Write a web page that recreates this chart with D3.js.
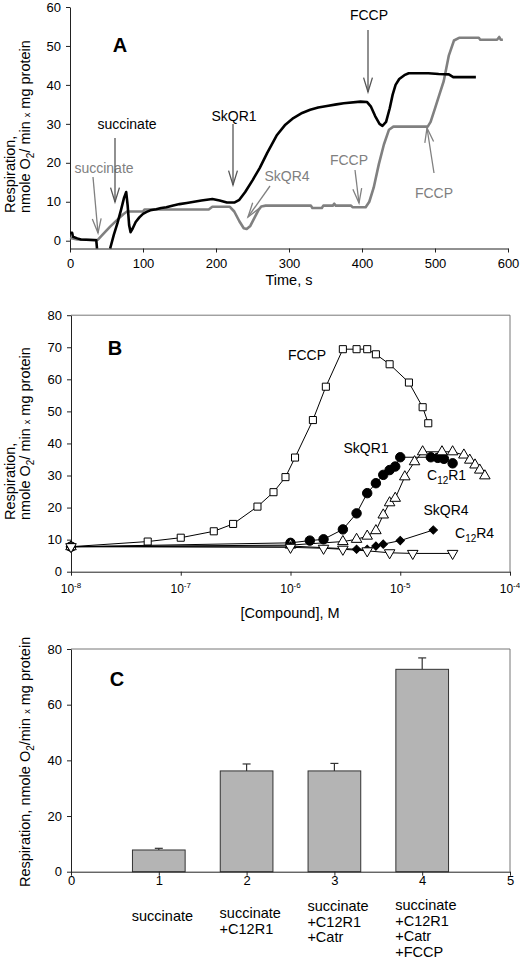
<!DOCTYPE html>
<html><head><meta charset="utf-8">
<script src="https://cdn.jsdelivr.net/npm/d3@7"></script>
<style>body{margin:0;background:#fff} text{font-family:Arial,"Liberation Sans",sans-serif}</style>
</head><body><svg id="c" width="520" height="958"></svg>
<script>
// ---------- Panel A data ----------
const aTicksX = [0,100,200,300,400,500,600];
const aTicksY = [0,10,20,30,40,50,60];
const blackTime = [0,3,4,10,15,36,37,46,55,60,65,70,74,77,79,81,83,86,90,95,100,105,110,118,125,132,140,150,160,170,180,195,205,215,225,232,240,250,260,270,283,295,306,318,329,340,352,365,375,398,407,412,418,424,428,433,438,442,446,451,458,464,491,505,519,525,533,556];
const blackResp = [2.0,2.0,1.0,0.6,0.3,0.1,-2,null,-2,1.5,4.5,8,11,12.5,9,4,2.2,3.2,4.8,6,6.9,7.4,7.8,8.1,8.4,8.6,9,9.4,9.7,10,10.3,10.7,10.3,9.8,9.8,10.5,12.5,15.5,18.7,22.5,27,29.8,31.5,32.8,33.6,34.2,34.6,35,35.3,35.7,35.6,34.5,32,30,29.5,30.5,34,37.5,40,41.5,42.5,43,43,42.8,42.7,42,42,42];
const grayTime = [0,5,10,38,45,55,65,73,78,100,102,150,190,195,219,225,232,238,242,247,253,258,262,268,330,332,345,347,360,362,364,385,387,405,410,416,423,430,437,443,490,494,500,506,512,519,526,533,560,562,585,588,590,593];
const grayResp = [0.7,0.5,0.3,0.2,1.6,3.6,5.4,6.8,7.5,7.5,8.0,8.0,8.0,8.7,8.7,7.5,5,3.2,3.0,3.8,6,7.8,8.8,9.0,9.0,8.4,8.4,9.0,9.0,9.5,9.0,9.0,8.6,8.6,10,13.6,19.6,24.7,28.5,29.3,29.3,30.5,34,37.5,41,47.6,51.4,52.1,52.1,51.6,51.6,52.3,51.6,51.6];

// ---------- Panel B data ----------
const bTicksX = [1e-8,1e-7,1e-6,1e-5,1e-4];
const bTicksY = [0,10,20,30,40,50,60,70,80];
const fccpConc = [1e-8,5e-8,1e-7,2e-7,3e-7,5e-7,7e-7,9e-7,1.1e-6,1.6e-6,2.1e-6,3e-6,4e-6,5e-6,6e-6,8e-6,1.2e-5,1.6e-5,1.8e-5];
const fccpResp = [7.8,9.4,10.6,12.6,14.9,20.3,24.8,29.5,35.6,47.3,57.7,69.4,69.4,69.4,67.8,64.7,59,51.3,46.3];
const skqr1Conc = [1e-8,1e-6,1.5e-6,2e-6,3e-6,4e-6,5e-6,6e-6,7e-6,8e-6,9e-6,1e-5,1.9e-5,2.2e-5,2.5e-5,3e-5];
const skqr1Resp = [7.8,9.0,9.7,10.1,13.2,18.2,24.5,27.6,30.2,31.7,32.8,35.7,35.7,35.5,35.2,33.8];
const c12r1Conc = [1e-8,1e-6,3e-6,4e-6,5e-6,6e-6,7e-6,8e-6,9e-6,1.1e-5,1.35e-5,1.6e-5,2.4e-5,3e-5,3.8e-5,4.3e-5,4.8e-5,5.3e-5,5.9e-5];
const c12r1Resp = [7.8,8.3,9.4,10.1,11.1,12.8,17.7,21.5,22.9,29.6,34.3,37.4,37.4,37.4,36.4,34.8,33.3,31.7,29.9];
const c12r4Conc = [1e-8,1e-6,4e-6,5e-6,6e-6,7e-6,1e-5,2e-5];
const c12r4Resp = [7.8,8.0,7.0,7.0,8.0,8.6,9.7,13.0];
const skqr4Conc = [1e-8,1e-6,2e-6,3e-6,5e-6,8e-6,1.3e-5,3e-5];
const skqr4Resp = [7.8,7.6,7.3,7.0,6.5,5.9,5.7,5.7];

// ---------- Panel C data ----------
const cTicksX = [0,1,2,3,4,5];
const cTicksY = [0,20,40,60,80];
const barX = [1,2,3,4];
const barLabels = [["succinate"],["succinate","+C12R1"],["succinate","+C12R1","+Catr"],["succinate","+C12R1","+Catr","+FCCP"]];
const barValues = [7.8,36.2,36.2,72.7];
const barErrors = [0.6,2.5,2.7,4.1];

const svg = d3.select("#c");
const GRAY = "#808080";

function styleAxis(g, fs){
  g.selectAll("path.domain").attr("stroke","#222");
  g.selectAll(".tick line").attr("stroke","#222");
  g.selectAll(".tick text").attr("font-size",fs).attr("fill","#000").attr("font-family","Arial, 'Liberation Sans', sans-serif");
}
function yTitle2(x1, x2, yStart){
  svg.append("text").attr("transform",`translate(${x1},${yStart}) rotate(-90)`).attr("font-size",14.5).text("Respiration,");
  const t = svg.append("text").attr("transform",`translate(${x2},${yStart}) rotate(-90)`).attr("font-size",14.5);
  t.append("tspan").text("nmole O");
  t.append("tspan").attr("font-size",10).attr("dy",4).text("2");
  t.append("tspan").attr("dy",-4).text("/ min ");
  t.append("tspan").attr("font-size",9).text("x");
  t.append("tspan").text(" mg protein");
}
function arrow(x1,y1,x2,y2,color){
  const g = svg.append("g").attr("stroke",color).attr("stroke-width",1.3).attr("fill","none");
  g.append("line").attr("x1",x1).attr("y1",y1).attr("x2",x2).attr("y2",y2);
  const ang = Math.atan2(y1-y2, x1-x2), L = 15, w = 0.3;
  g.append("polyline").attr("points",[
    [x2+L*Math.cos(ang+w), y2+L*Math.sin(ang+w)],[x2,y2],[x2+L*Math.cos(ang-w), y2+L*Math.sin(ang-w)]
  ].map(p=>p.join(",")).join(" "));
}

// ================= PANEL A =================
const ax = d3.scaleLinear().domain([0,600]).range([70,508]);
const ay = d3.scaleLinear().domain([-2,60]).range([248.5,7]);
const gAy = svg.append("g").attr("transform","translate(70,0)")
  .call(d3.axisLeft(ay).tickValues(aTicksY).tickSize(4).tickSizeOuter(0).tickPadding(5));
styleAxis(gAy,13);
const gAx = svg.append("g").attr("transform",`translate(0,${ay(-2)})`)
  .call(d3.axisBottom(ax).tickValues(aTicksX).tickSize(4).tickSizeOuter(0).tickPadding(6.5));
styleAxis(gAx,13);
svg.append("text").attr("x",289).attr("y",285).attr("text-anchor","middle").attr("font-size",14.5).text("Time, s");
yTitle2(15,30,213);

const lineA = d3.line().defined(d=>d[1]!==null).x(d=>ax(d[0])).y(d=>ay(d[1]));
svg.append("path").datum(d3.zip(grayTime,grayResp)).attr("d",lineA)
  .attr("fill","none").attr("stroke",GRAY).attr("stroke-width",2.6).attr("stroke-linejoin","round");
svg.append("path").datum(d3.zip(blackTime,blackResp)).attr("d",lineA)
  .attr("fill","none").attr("stroke","#000").attr("stroke-width",2.6).attr("stroke-linejoin","round");

svg.append("text").attr("x",120).attr("y",52).attr("text-anchor","middle").attr("font-size",20).attr("font-weight","bold").text("A");
const annA = [
  {t:"succinate",x:127,y:129,c:"#000"},
  {t:"succinate",x:104,y:173,c:GRAY},
  {t:"SkQR1",x:234,y:121,c:"#000"},
  {t:"SkQR4",x:287,y:181,c:GRAY},
  {t:"FCCP",x:349,y:165,c:GRAY},
  {t:"FCCP",x:369,y:20,c:"#000"},
  {t:"FCCP",x:434,y:198,c:GRAY}
];
annA.forEach(a=>svg.append("text").attr("x",a.x).attr("y",a.y).attr("text-anchor","middle").attr("font-size",14).attr("fill",a.c).text(a.t));
arrow(115,138,115,202,"#555");
arrow(93,177,98,233,GRAY);
arrow(233,124,233,185,"#555");
arrow(270,186,248,217,GRAY);
arrow(355,170,359,203,GRAY);
arrow(368,30,368,92,"#555");
arrow(434,173,427,128,GRAY);

// ================= PANEL B =================
const bx = d3.scaleLog().domain([1e-8,1e-4]).range([71,510]);
const by = d3.scaleLinear().domain([0,80]).range([571.7,315.2]);
svg.append("line").attr("x1",71).attr("x2",510).attr("y1",315.2).attr("y2",315.2).attr("stroke","#777");
svg.append("line").attr("x1",510).attr("x2",510).attr("y1",315.2).attr("y2",571.7).attr("stroke","#777");
const gBy = svg.append("g").attr("transform","translate(71,0)")
  .call(d3.axisLeft(by).tickValues(bTicksY).tickSize(4).tickSizeOuter(0).tickPadding(5));
styleAxis(gBy,13);
const gBx = svg.append("g").attr("transform",`translate(0,${by(0)})`)
  .call(d3.axisBottom(bx).tickValues(bTicksX).tickSize(4).tickSizeOuter(0).tickFormat(()=>""));
styleAxis(gBx,13);
bTicksX.forEach(v=>{
  const t = svg.append("text").attr("x",bx(v)).attr("y",593).attr("text-anchor","middle").attr("font-size",12);
  t.append("tspan").text("10");
  t.append("tspan").attr("dy",-5).attr("font-size",8).text(String(Math.round(Math.log10(v))));
});
svg.append("text").attr("x",290).attr("y",618).attr("text-anchor","middle").attr("font-size",14.5).text("[Compound], M");
yTitle2(15,30,520);
svg.append("text").attr("x",115).attr("y",355).attr("text-anchor","middle").attr("font-size",20).attr("font-weight","bold").text("B");

const lineB = d3.line().x(d=>bx(d[0])).y(d=>by(d[1]));
function series(conc, resp, symType, size, fill, rot){
  const data = d3.zip(conc,resp);
  svg.append("path").datum(data).attr("d",lineB).attr("fill","none").attr("stroke","#000").attr("stroke-width",1);
  svg.append("g").selectAll("path").data(data).join("path")
    .attr("transform",d=>`translate(${bx(d[0])},${by(d[1])}) rotate(${rot})`)
    .attr("d",d3.symbol().type(symType).size(size))
    .attr("fill",fill).attr("stroke","#000").attr("stroke-width",1);
}
series(fccpConc,fccpResp,d3.symbolSquare,50,"#fff",0);
series(skqr1Conc,skqr1Resp,d3.symbolCircle,70,"#000",0);
series(c12r1Conc,c12r1Resp,d3.symbolTriangle,48,"#fff",0);
series(c12r4Conc,c12r4Resp,d3.symbolSquare,34,"#000",45);
series(skqr4Conc,skqr4Resp,d3.symbolTriangle,48,"#fff",180);

svg.append("text").attr("x",307).attr("y",360).attr("text-anchor","middle").attr("font-size",14).text("FCCP");
svg.append("text").attr("x",366).attr("y",453).attr("text-anchor","middle").attr("font-size",14).text("SkQR1");
svg.append("text").attr("x",446).attr("y",515).attr("text-anchor","middle").attr("font-size",14).text("SkQR4");
function cLabel(x,y,suffix){
  const t = svg.append("text").attr("x",x).attr("y",y).attr("font-size",14);
  t.append("tspan").text("C");
  t.append("tspan").attr("dy",4).attr("font-size",10).text("12");
  t.append("tspan").attr("dy",-4).text(suffix);
}
cLabel(427,480,"R1");
cLabel(455,538,"R4");

// ================= PANEL C =================
const cx = d3.scaleLinear().domain([0,5]).range([71,510]);
const cy = d3.scaleLinear().domain([0,80]).range([871.7,649]);
svg.append("line").attr("x1",71).attr("x2",510).attr("y1",649).attr("y2",649).attr("stroke","#777");
svg.append("line").attr("x1",510).attr("x2",510).attr("y1",649).attr("y2",871.7).attr("stroke","#777");
const bw = cx(0.6)-cx(0);
svg.append("g").selectAll("rect").data(d3.zip(barX,barValues)).join("rect")
  .attr("x",d=>cx(d[0])-bw/2).attr("y",d=>cy(d[1])).attr("width",bw).attr("height",d=>cy(0)-cy(d[1]))
  .attr("fill","#b4b4b4").attr("stroke","#333").attr("stroke-width",1);
svg.append("g").selectAll("g").data(d3.zip(barX,barValues,barErrors)).join("g").each(function(d){
  const g = d3.select(this).attr("stroke","#333").attr("stroke-width",1.2);
  g.append("line").attr("x1",cx(d[0])).attr("x2",cx(d[0])).attr("y1",cy(d[1])).attr("y2",cy(d[1]+d[2]));
  g.append("line").attr("x1",cx(d[0])-4).attr("x2",cx(d[0])+4).attr("y1",cy(d[1]+d[2])).attr("y2",cy(d[1]+d[2]));
});
const gCy = svg.append("g").attr("transform","translate(71,0)")
  .call(d3.axisLeft(cy).tickValues(cTicksY).tickSize(4).tickSizeOuter(0).tickPadding(5));
styleAxis(gCy,13);
const gCx = svg.append("g").attr("transform",`translate(0,${cy(0)})`)
  .call(d3.axisBottom(cx).tickValues(cTicksX).tickFormat(d3.format("d")).tickSize(4).tickSizeOuter(0).tickPadding(0));
styleAxis(gCx,13);
const labelTop = [921,918,911,910];
barLabels.forEach((lines,i)=>{
  lines.forEach((s,j)=>{
    svg.append("text").attr("x",cx(barX[i])-27).attr("y",labelTop[i]+j*15.5).attr("font-size",14.5).text(s);
  });
});
const ct = svg.append("text").attr("transform","translate(30,887) rotate(-90)").attr("font-size",14.5);
ct.append("tspan").text("Respiration, nmole O");
ct.append("tspan").attr("font-size",10).attr("dy",4).text("2");
ct.append("tspan").attr("dy",-4).text("/min ");
ct.append("tspan").attr("font-size",9).text("x");
ct.append("tspan").text(" mg protein");
svg.append("text").attr("x",117).attr("y",686).attr("text-anchor","middle").attr("font-size",20).attr("font-weight","bold").text("C");
</script></body></html>
